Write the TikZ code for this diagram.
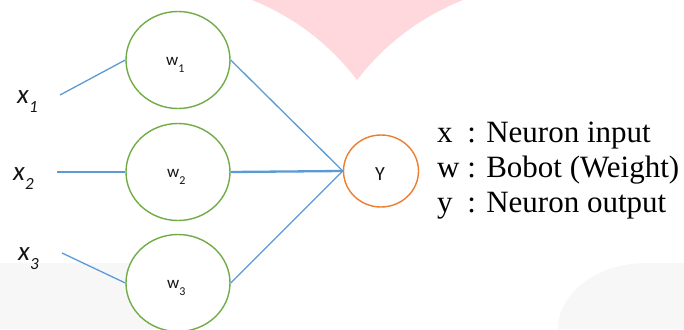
\documentclass[tikz,border=0pt]{standalone}
\usepackage{fontspec}
\setmainfont{Liberation Serif}
\newfontfamily\carl{Carlito}
\usetikzlibrary{shapes.geometric}
\definecolor{ngreen}{RGB}{112,173,71}
\definecolor{norange}{RGB}{237,125,49}
\definecolor{nblue}{RGB}{91,155,213}
\definecolor{bgpink}{RGB}{254,216,220}
\definecolor{bggray}{RGB}{247,247,247}
\definecolor{labgray}{RGB}{20,20,20}
\begin{document}
\begin{tikzpicture}[x=1pt,y=-1pt,
  neuron/.style={ellipse, draw=ngreen, fill=white, line width=1.4pt, minimum width=104pt, minimum height=97pt, inner sep=0pt},
  outn/.style={ellipse, draw=norange, fill=white, line width=1.4pt, minimum width=75pt, minimum height=72pt, inner sep=0pt},
  conn/.style={draw=nblue, line width=1.3pt},
  thickconn/.style={draw=nblue, line width=2.3pt},
  xlab/.style={anchor=base west, inner sep=0pt, text=labgray, font=\carl\fontsize{27}{27}\selectfont},
  wlab/.style={anchor=base west, inner sep=0pt, text=labgray, font=\carl\fontsize{17}{17}\selectfont},
  legend/.style={anchor=base west, inner sep=0pt, text=black, font=\fontsize{31}{35}\selectfont}]
% background
\fill[white] (0,0) rectangle (684,329);
\useasboundingbox (0,0) rectangle (684,329);
\fill[bgpink] (252,0) .. controls (294.3,17.1) and (329.3,43.7) .. (357,80)
   .. controls (385.1,43.7) and (420.5,17.1) .. (463,0) -- cycle;
\fill[bggray] (0,263) rectangle (178,329);
\fill[bggray] (558,329) .. controls (558,292.5) and (597.8,263) .. (647,263) -- (684,263) -- (684,329) -- cycle;
% neurons
\node[neuron] (w1) at (178,60) {};
\node[neuron] (w2) at (178,172) {};
\node[neuron] (w3) at (178,283) {};
\node[outn] (Y) at (381,171) {};
% labels
\node[wlab] (w1l) at (166,65) {w\raisebox{-7pt}{\fontsize{12}{12}\selectfont 1}};
\node[wlab] (w2l) at (167,177) {w\raisebox{-7pt}{\fontsize{12}{12}\selectfont 2}};
\node[wlab] (w3l) at (167,288) {w\raisebox{-7pt}{\fontsize{12}{12}\selectfont 3}};
\node[anchor=base, inner sep=0pt, text=labgray, font=\carl\fontsize{20}{20}\selectfont] (Yl) at (380,180) {Y};
\node[xlab] (x1) at (17,103) {\textit{x}\raisebox{-9pt}{\fontsize{17}{17}\selectfont\textit{1}}};
\node[xlab] (x2) at (13,180) {\textit{x}\raisebox{-9pt}{\fontsize{17}{17}\selectfont\textit{2}}};
\node[xlab] (x3) at (18,260) {\textit{x}\raisebox{-9pt}{\fontsize{17}{17}\selectfont\textit{3}}};
% inputs
\coordinate (x1e) at (60,95);
\coordinate (x2e) at (57,172);
\coordinate (x3e) at (62,253);
\draw[conn] (x1e) -- (w1.west);
\draw[thickconn] (x2e) -- (w2.west);
\draw[conn] (x3e) -- (w3.west);
\draw[conn] (w1.east) -- (Y.west);
\draw[thickconn] (w2.east) -- (Y.west);
\draw[conn] (w3.east) -- (Y.west);
% legend
\node[legend] (leg) at (437,142) {\begin{tabular}[t]{@{}l@{\hspace{7.75pt}}l@{}}
x & : Neuron input\\
w & : Bobot (Weight)\\
y & : Neuron output
\end{tabular}};
\end{tikzpicture}
\end{document}
